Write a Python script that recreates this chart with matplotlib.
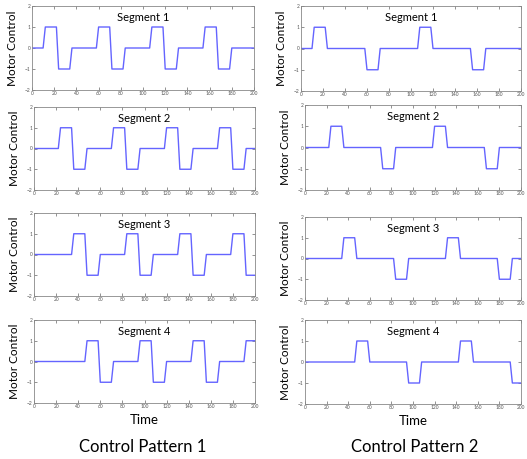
import matplotlib
matplotlib.use("Agg")
import matplotlib.pyplot as plt

plt.rcParams["font.family"] = ["Lato", "DejaVu Sans"]

# ---- Data: breakpoints (time, motor control) for each segment ----
p1_seg1_t = [0, 10, 12, 22, 24, 34, 36, 58, 60, 70, 72, 82, 84, 106, 108, 118, 120, 130, 132,
             154, 156, 166, 168, 178, 180, 200]
p1_seg1_v = [0, 0, 1, 1, -1, -1, 0, 0, 1, 1, -1, -1, 0, 0, 1, 1, -1, -1, 0,
             0, 1, 1, -1, -1, 0, 0]

p1_seg2_t = [0, 22, 24, 34, 36, 46, 48, 70, 72, 82, 84, 94, 96, 118, 120, 130, 132, 142, 144,
             166, 168, 178, 180, 190, 192, 200]
p1_seg2_v = [0, 0, 1, 1, -1, -1, 0, 0, 1, 1, -1, -1, 0, 0, 1, 1, -1, -1, 0,
             0, 1, 1, -1, -1, 0, 0]

p1_seg3_t = [0, 34, 36, 46, 48, 58, 60, 82, 84, 94, 96, 106, 108, 130, 132, 142, 144, 154, 156,
             178, 180, 190, 192, 200]
p1_seg3_v = [0, 0, 1, 1, -1, -1, 0, 0, 1, 1, -1, -1, 0, 0, 1, 1, -1, -1, 0,
             0, 1, 1, -1, -1]

p1_seg4_t = [0, 46, 48, 58, 60, 70, 72, 94, 96, 106, 108, 118, 120, 142, 144, 154, 156, 166, 168,
             190, 192, 200]
p1_seg4_v = [0, 0, 1, 1, -1, -1, 0, 0, 1, 1, -1, -1, 0, 0, 1, 1, -1, -1, 0,
             0, 1, 1]

p2_seg1_t = [0, 10, 12, 22, 24, 58, 60, 70, 72, 106, 108, 118, 120, 154, 156, 166, 168, 200]
p2_seg1_v = [0, 0, 1, 1, 0, 0, -1, -1, 0, 0, 1, 1, 0, 0, -1, -1, 0, 0]

p2_seg2_t = [0, 22, 24, 34, 36, 70, 72, 82, 84, 118, 120, 130, 132, 166, 168, 178, 180, 200]
p2_seg2_v = [0, 0, 1, 1, 0, 0, -1, -1, 0, 0, 1, 1, 0, 0, -1, -1, 0, 0]

p2_seg3_t = [0, 34, 36, 46, 48, 82, 84, 94, 96, 130, 132, 142, 144, 178, 180, 190, 192, 200]
p2_seg3_v = [0, 0, 1, 1, 0, 0, -1, -1, 0, 0, 1, 1, 0, 0, -1, -1, 0, 0]

p2_seg4_t = [0, 46, 48, 58, 60, 94, 96, 106, 108, 142, 144, 154, 156, 190, 192, 200]
p2_seg4_v = [0, 0, 1, 1, 0, 0, -1, -1, 0, 0, 1, 1, 0, 0, -1, -1]

segment_titles = ["Segment 1", "Segment 2", "Segment 3", "Segment 4"]
x_ticks = list(range(0, 201, 20))
y_ticks = [-2, -1, 0, 1, 2]

pattern1 = [(p1_seg1_t, p1_seg1_v), (p1_seg2_t, p1_seg2_v),
            (p1_seg3_t, p1_seg3_v), (p1_seg4_t, p1_seg4_v)]
pattern2 = [(p2_seg1_t, p2_seg1_v), (p2_seg2_t, p2_seg2_v),
            (p2_seg3_t, p2_seg3_v), (p2_seg4_t, p2_seg4_v)]

# ---- Layout (pixel boxes: left, right, top, bottom) ----
W, H = 527, 459
fig = plt.figure(figsize=(W / 100, H / 100), dpi=100)

left_boxes = [(32, 254, 6, 90), (34, 255, 107, 190), (34, 255, 213, 296), (34, 255, 320, 403)]
right_boxes = [(301, 521, 6, 91), (305, 521, 105, 190), (305, 521, 217, 300), (305, 521, 320, 404)]

line_color = "#6464ff"


def make_axes(box):
    l, r, t, b = box
    return fig.add_axes([l / W, 1 - b / H, (r - l) / W, (b - t) / H])


def draw_panel(ax, t, v, title):
    ax.plot(t, v, color=line_color, linewidth=1.0)
    ax.set_xlim(0, 200)
    ax.set_ylim(-2, 2)
    ax.set_xticks(x_ticks)
    ax.set_yticks(y_ticks)
    ax.tick_params(direction="in", length=2, width=0.5, labelsize=3.5,
                   labelcolor="#555555", color="#666666", pad=1,
                   top=True, right=True)
    for s in ax.spines.values():
        s.set_linewidth(0.6)
        s.set_color("#888888")
    ax.text(100, 1.45, title, ha="center", va="center", fontsize=8)
    ax.set_ylabel("Motor Control", fontsize=8.5, labelpad=5)


for i, (t, v) in enumerate(pattern1):
    ax = make_axes(left_boxes[i])
    draw_panel(ax, t, v, segment_titles[i])
    if i == 3:
        ax.set_xlabel("Time", fontsize=9.5, labelpad=3)

for i, (t, v) in enumerate(pattern2):
    ax = make_axes(right_boxes[i])
    draw_panel(ax, t, v, segment_titles[i])
    if i == 3:
        ax.set_xlabel("Time", fontsize=9.5, labelpad=3)

fig.text(143 / W, 1 - 447 / H, "Control Pattern 1", ha="center", va="center", fontsize=12)
fig.text(415 / W, 1 - 447 / H, "Control Pattern 2", ha="center", va="center", fontsize=12)

fig.savefig("out.png", dpi=100)
